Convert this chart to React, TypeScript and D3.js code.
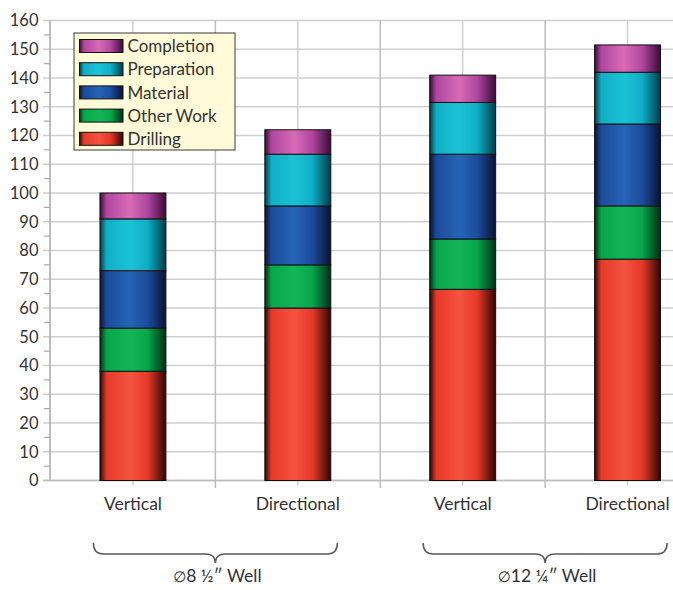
import React from "react";
import * as d3 from "d3";

const categories = ["Vertical", "Directional", "Vertical", "Directional"];
const groupSizes = ["8 ½″ Well", "12 ¼″ Well"];
const diameterSign = "∅";
const seriesNames = ["Drilling", "Other Work", "Material", "Preparation", "Completion"];

const drilling = [38, 60, 66.5, 77];
const otherWork = [15, 15, 17.5, 18.5];
const material = [20, 20.5, 29.5, 28.5];
const preparation = [18, 18, 18, 18];
const completion = [9, 8.5, 9.5, 9.5];

const yTicks = [0, 10, 20, 30, 40, 50, 60, 70, 80, 90, 100, 110, 120, 130, 140, 150, 160];

const seriesValues = [drilling, otherWork, material, preparation, completion];
const palette = [
  { base: "#e63a29", light: "#f4523f", dark: "#2e0704" },
  { base: "#07a64a", light: "#14b558", dark: "#022e15" },
  { base: "#1b4c9b", light: "#2664b6", dark: "#0b1232" },
  { base: "#0fafc5", light: "#1cc2d4", dark: "#033c47" },
  { base: "#b0479f", light: "#d86ab5", dark: "#3a0c36" },
];

const W = 673;
const H = 590;
const FONT = "Lato, 'Open Sans', sans-serif";
const TEXT = "#333333";

export default function App() {
  const keys = categories.map((_, i) => `c${i}`);
  const x = d3.scaleBand<string>().domain(keys).range([50.5, 710]).paddingInner(0.6).paddingOuter(0.3);
  const y = d3.scaleLinear().domain([0, 160]).range([480.5, 20.5]);
  const step = x.step();

  const rows = keys.map((k, i) => {
    const row: Record<string, number | string> = { key: k };
    seriesNames.forEach((s, j) => (row[s] = seriesValues[j][i]));
    return row;
  });
  const stacked = d3.stack<any>().keys(seriesNames)(rows);

  const minor = d3.range(5, 160, 10);
  const centers = keys.map((k) => (x(k) as number) + x.bandwidth() / 2);
  const separators = [1, 2, 3].map((i) => 50.5 + i * step);

  const bracePath = (cx: number) => {
    const half = 122;
    const top = 543;
    const mid = 554;
    const tip = 563;
    const r = 10;
    return [
      `M${cx - half},${top}`,
      `Q${cx - half},${mid} ${cx - half + r},${mid}`,
      `L${cx - r},${mid}`,
      `Q${cx},${mid} ${cx},${tip}`,
      `Q${cx},${mid} ${cx + r},${mid}`,
      `L${cx + half - r},${mid}`,
      `Q${cx + half},${mid} ${cx + half},${top}`,
    ].join(" ");
  };
  const groupCenters = [(centers[0] + centers[1]) / 2, (centers[2] + centers[3]) / 2];

  const legendX = 74;
  const legendY = 33;
  const legendOrder = [4, 3, 2, 1, 0];

  return (
    <svg
      width={W}
      height={H}
      style={{ position: "absolute", left: 0, top: 0, background: "#fff" }}
      fontFamily={FONT}
    >
      <defs>
        {palette.map((p, i) => (
          <linearGradient key={i} id={`g${i}`} x1="0" x2="1" y1="0" y2="0">
            <stop offset="0" stopColor={p.dark} />
            <stop offset="0.1" stopColor={p.base} />
            <stop offset="0.45" stopColor={p.light} />
            <stop offset="0.72" stopColor={p.base} />
            <stop offset="1" stopColor={p.dark} />
          </linearGradient>
        ))}
      </defs>

      {/* horizontal gridlines and y ticks */}
      {yTicks.map((t) => (
        <line key={`h${t}`} x1={43} x2={W} y1={y(t)} y2={y(t)} stroke="#cfcfcf" strokeWidth={1.5} />
      ))}
      {minor.map((t) => (
        <line key={`m${t}`} x1={44} x2={50} y1={y(t)} y2={y(t)} stroke="#aaaaaa" strokeWidth={1.2} />
      ))}
      {yTicks.map((t) => (
        <text key={`t${t}`} x={38.5} y={y(t)} dy="0.36em" textAnchor="end" fontSize={16.5} fill={TEXT}>
          {t}
        </text>
      ))}

      {/* vertical gridlines */}
      {centers.map((c, i) => (
        <line key={`vc${i}`} x1={c} x2={c} y1={y(160)} y2={485.5} stroke="#cfcfcf" strokeWidth={1.5} />
      ))}
      {separators.map((s, i) => (
        <line key={`vs${i}`} x1={s} x2={s} y1={y(160)} y2={488} stroke="#bdbdbd" strokeWidth={1.5} />
      ))}

      {/* axes */}
      <line x1={50} x2={50} y1={y(160)} y2={y(0)} stroke="#a8a8a8" strokeWidth={1.5} />
      <line x1={43} x2={W} y1={y(0)} y2={y(0)} stroke="#bdbdbd" strokeWidth={1.5} />

      {/* stacked bars */}
      {stacked.map((layer, si) =>
        layer.map((d, ci) => (
          <rect
            key={`b${si}-${ci}`}
            x={x(keys[ci])}
            y={y(d[1])}
            width={x.bandwidth()}
            height={y(d[0]) - y(d[1])}
            fill={`url(#g${si})`}
            stroke="#111"
            strokeWidth={1}
          />
        ))
      )}

      {/* category labels */}
      {categories.map((c, i) => (
        <text key={`c${i}`} x={centers[i]} y={510} textAnchor="middle" fontSize={17.5} fill={TEXT}>
          {c}
        </text>
      ))}

      {/* group braces */}
      {groupCenters.map((gc, i) => (
        <g key={`br${i}`}>
          <path d={bracePath(gc)} fill="none" stroke="#5a5a5a" strokeWidth={1.5} />
          <text x={gc + 2} y={582} textAnchor="middle" fontSize={17.5} fill={TEXT}>
            <tspan fontFamily="'DejaVu Sans'" fontSize={15}>
              {diameterSign}
            </tspan>
            {groupSizes[i]}
          </text>
        </g>
      ))}

      {/* legend */}
      <rect x={legendX} y={legendY} width={161} height={117} fill="#fffad8" stroke="#3a3a3a" strokeWidth={1} />
      {legendOrder.map((si, row) => {
        const cy = legendY + 13 + row * 23.2;
        return (
          <g key={`l${si}`}>
            <rect x={79.5} y={cy - 6.5} width={43.5} height={13} fill={`url(#g${si})`} stroke="#111" strokeWidth={1} />
            <text x={127.5} y={cy} dy="0.36em" fontSize={17} fill={TEXT}>
              {seriesNames[si]}
            </text>
          </g>
        );
      })}
    </svg>
  );
}
